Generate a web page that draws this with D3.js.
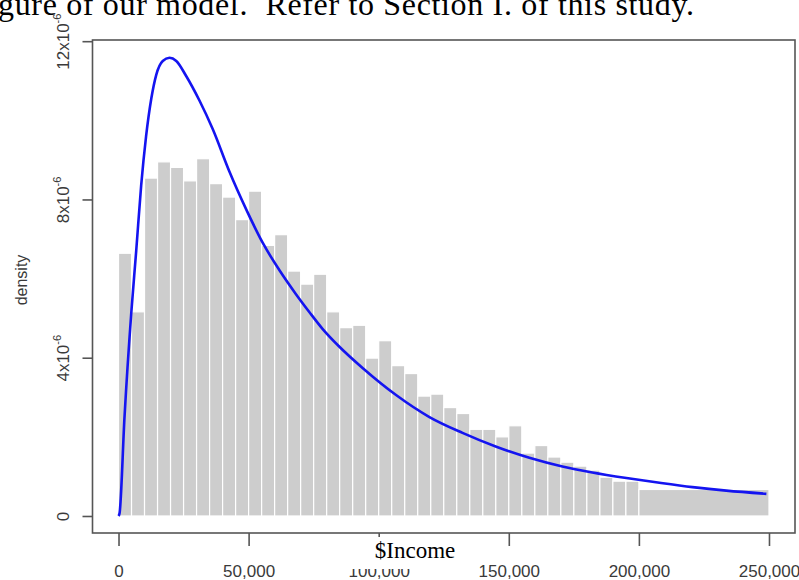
<!DOCTYPE html>
<html>
<head>
<meta charset="utf-8">
<script src="https://cdn.jsdelivr.net/npm/d3@7"></script>
<style>
  html, body { margin: 0; padding: 0; background: #fff; }
  svg { display: block; }
</style>
</head>
<body>
<svg id="chart" width="799" height="580"></svg>
<script>
// === Données ===
// bornes des classes de l'histogramme ($)
const binEdges = [0, 5000, 10000, 15000, 20000, 25000, 30000, 35000, 40000, 45000,
  50000, 55000, 60000, 65000, 70000, 75000, 80000, 85000, 90000, 95000,
  100000, 105000, 110000, 115000, 120000, 125000, 130000, 135000, 140000, 145000,
  150000, 155000, 160000, 165000, 170000, 175000, 180000, 185000, 190000, 195000,
  200000, 250000];

// densité de chaque classe (en 1e-6)
const binDensity = [6.64, 5.16, 8.54, 8.95, 8.81, 8.47, 9.03, 8.40, 8.06, 7.49,
  8.21, 6.84, 7.11, 6.19, 5.86, 6.11, 5.16, 4.76, 4.82, 3.99,
  4.43, 3.80, 3.60, 3.03, 3.08, 2.74, 2.59, 2.19, 2.19, 2.00,
  2.28, 1.59, 1.78, 1.49, 1.36, 1.26, 1.16, 0.98, 0.88, 0.88,
  0.67];

// courbe de densité ajustée (points relevés)
const curveIncome = [0, 400, 2300, 4900, 6800, 8700, 10600, 12600, 14500, 17000,
  19600, 22200, 26000, 31100, 36200, 42650, 49070, 55450, 61860, 68270,
  73390, 78400, 85000, 93800, 106800, 119500, 132200, 145200, 157900, 170600,
  182100, 195200, 207900, 220600, 233600, 249000];
const curveDensity = [0, 0.07, 2.5, 5.13, 6.7, 8.35, 9.6, 10.55, 11.15, 11.5,
  11.58, 11.5, 11.12, 10.5, 9.78, 8.7, 7.75, 6.9, 6.21, 5.6,
  5.15, 4.73, 4.27, 3.74, 3.05, 2.5, 2.1, 1.75, 1.47, 1.25,
  1.1, 0.96, 0.84, 0.73, 0.64, 0.56];

const xTicks = [0, 50000, 100000, 150000, 200000, 250000];
const yTicks = [0, 4, 8, 12];              // en 1e-6
const yTickBase = ["0", "4x10", "8x10", "12x10"];
const yTickExp = ["", "-6", "-6", "-6"];

const captionText = "gure of our model.  Refer to Section I. of this study.";
const xLabel = "$Income";
const yLabel = "density";

// === Initialisation ===
const svg = d3.select('#chart');
const width = 799, height = 580;
const box = { left: 92.5, right: 795, top: 40, bottom: 533 };

svg.append('rect').attr('width', width).attr('height', height).attr('fill', '#fff');

const x = d3.scaleLinear().domain([-10000, 260000]).range([box.left, box.right]);
const y = d3.scaleLinear().domain([-0.43, 12.03]).range([box.bottom, box.top]);

const bins = binDensity.map((d, i) => ({ x0: binEdges[i], x1: binEdges[i + 1], density: d }));

// === Histogramme ===
svg.append('g')
  .selectAll('rect')
  .data(bins)
  .enter().append('rect')
  .attr('x', d => x(d.x0))
  .attr('y', d => y(d.density))
  .attr('width', d => x(d.x1) - x(d.x0))
  .attr('height', d => y(0) - y(d.density))
  .attr('fill', '#cdcdcd')
  .attr('stroke', '#fff')
  .attr('stroke-width', 1.2);

// === Courbe de densité ===
const line = d3.line()
  .x((d, i) => x(curveIncome[i]))
  .y(d => y(d))
  .curve(d3.curveMonotoneX);

svg.append('path')
  .datum(curveDensity)
  .attr('d', line)
  .attr('fill', 'none')
  .attr('stroke', '#1414f0')
  .attr('stroke-width', 2.6);

// === Cadre ===
svg.append('rect')
  .attr('x', box.left).attr('y', box.top)
  .attr('width', box.right - box.left).attr('height', box.bottom - box.top)
  .attr('fill', 'none')
  .attr('stroke', '#555')
  .attr('stroke-width', 1.6);

// === Axe X ===
const xAxis = svg.append('g')
  .attr('transform', `translate(0,${box.bottom})`)
  .call(d3.axisBottom(x).tickValues(xTicks).tickSize(13).tickFormat(d3.format(',')));
xAxis.select('.domain').remove();
xAxis.selectAll('.tick line').attr('stroke', '#555').attr('stroke-width', 1.6);
xAxis.selectAll('.tick text')
  .attr('y', 44).attr('dy', 0)
  .attr('fill', '#3a3a3a')
  .style('font-family', 'Liberation Sans, Arial, sans-serif')
  .style('font-size', '17px');

// === Axe Y ===
const yAxis = svg.append('g')
  .attr('transform', `translate(${box.left},0)`)
  .call(d3.axisLeft(y).tickValues(yTicks).tickSize(10));
yAxis.select('.domain').remove();
yAxis.selectAll('.tick line').attr('stroke', '#555').attr('stroke-width', 1.6);
yAxis.selectAll('.tick text').each(function (d, i) {
  const t = d3.select(this)
    .text(null)
    .attr('x', 0).attr('y', -24).attr('dy', 0)
    .attr('transform', 'rotate(-90)')
    .attr('text-anchor', 'middle')
    .attr('fill', '#3a3a3a')
    .style('font-family', 'Liberation Sans, Arial, sans-serif')
    .style('font-size', '17px');
  t.append('tspan').text(yTickBase[i]);
  if (yTickExp[i]) {
    t.append('tspan').attr('dy', -8).style('font-size', '11px').text(yTickExp[i]);
  }
});

// titre axe Y
svg.append('text')
  .attr('transform', 'translate(27,280) rotate(-90)')
  .attr('text-anchor', 'middle')
  .attr('fill', '#3a3a3a')
  .style('font-family', 'Liberation Sans, Arial, sans-serif')
  .style('font-size', '16px')
  .text(yLabel);

// titre axe X (sur fond blanc, comme collé sur la figure)
svg.append('rect')
  .attr('x', 342).attr('y', 537)
  .attr('width', 130).attr('height', 32)
  .attr('fill', '#fff');
svg.append('text')
  .attr('x', 415).attr('y', 558)
  .attr('text-anchor', 'middle')
  .attr('fill', '#000')
  .style('font-family', 'Liberation Serif, Times New Roman, serif')
  .style('font-size', '23px')
  .text(xLabel);

// === Texte du document au-dessus ===
svg.append('text')
  .attr('x', -2).attr('y', 15)
  .attr('fill', '#000')
  .attr('textLength', 696)
  .attr('lengthAdjust', 'spacing')
  .style('white-space', 'pre')
  .style('font-family', 'Liberation Serif, Times New Roman, serif')
  .style('font-size', '32px')
  .text(captionText);
</script>
</body>
</html>
